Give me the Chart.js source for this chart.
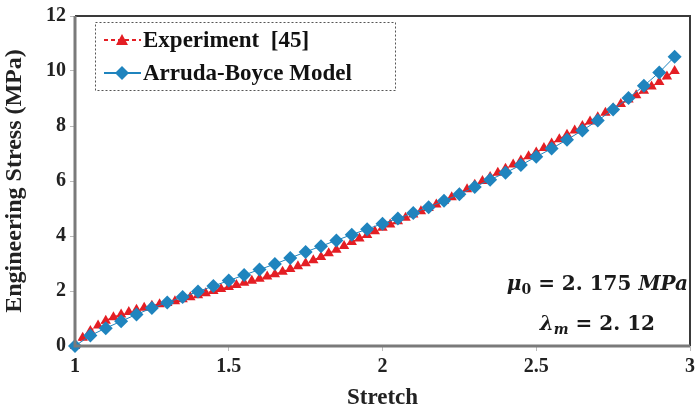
<!DOCTYPE html>
<html>
<head>
<meta charset="utf-8">
<script src="https://cdn.jsdelivr.net/npm/chart.js@4.4.1/dist/chart.umd.min.js"></script>
<style>
  html, body { margin: 0; padding: 0; background: #fff; }
  #wrap { width: 699px; height: 412px; position: relative; }
</style>
</head>
<body>
<div id="wrap"><canvas id="stressChart"></canvas></div>
<script>
// Arruda-Boyce model (blue diamonds)
const modelStretch = [1.00, 1.05, 1.10, 1.15, 1.20, 1.25, 1.30, 1.35, 1.40, 1.45,
  1.50, 1.55, 1.60, 1.65, 1.70, 1.75, 1.80, 1.85, 1.90, 1.95,
  2.00, 2.05, 2.10, 2.15, 2.20, 2.25, 2.30, 2.35, 2.40, 2.45,
  2.50, 2.55, 2.60, 2.65, 2.70, 2.75, 2.80, 2.85, 2.90, 2.95];
const modelStress = [0, 0.38, 0.65, 0.9, 1.15, 1.38, 1.58, 1.78, 1.98, 2.18,
  2.38, 2.58, 2.78, 2.98, 3.2, 3.42, 3.63, 3.84, 4.05, 4.25,
  4.45, 4.64, 4.84, 5.05, 5.28, 5.52, 5.78, 6.05, 6.3, 6.58,
  6.88, 7.18, 7.5, 7.84, 8.2, 8.6, 9.02, 9.46, 9.95, 10.52];

// Experiment [45] (red triangles)
const expStretch = [1.000, 1.025, 1.050, 1.075, 1.100, 1.125, 1.150, 1.175, 1.200, 1.225,
  1.250, 1.275, 1.300, 1.325, 1.350, 1.375, 1.400, 1.425, 1.450, 1.475,
  1.500, 1.525, 1.550, 1.575, 1.600, 1.625, 1.650, 1.675, 1.700, 1.725,
  1.750, 1.775, 1.800, 1.825, 1.850, 1.875, 1.900, 1.925, 1.950, 1.975,
  2.000, 2.025, 2.050, 2.075, 2.100, 2.125, 2.150, 2.175, 2.200, 2.225,
  2.250, 2.275, 2.300, 2.325, 2.350, 2.375, 2.400, 2.425, 2.450, 2.475,
  2.500, 2.525, 2.550, 2.575, 2.600, 2.625, 2.650, 2.675, 2.700, 2.725,
  2.750, 2.775, 2.800, 2.825, 2.850, 2.875, 2.900, 2.925, 2.950];
const expStress = [0, 0.3, 0.55, 0.75, 0.92, 1.05, 1.15, 1.24, 1.32, 1.39,
  1.46, 1.52, 1.56, 1.63, 1.7, 1.77, 1.85, 1.92, 2.0, 2.07,
  2.15, 2.22, 2.3, 2.37, 2.45, 2.53, 2.61, 2.7, 2.8, 2.9,
  3.01, 3.12, 3.24, 3.37, 3.5, 3.64, 3.78, 3.91, 4.04, 4.17,
  4.3, 4.42, 4.54, 4.66, 4.78, 4.9, 5.02, 5.15, 5.28, 5.41,
  5.55, 5.7, 5.86, 6.0, 6.15, 6.3, 6.45, 6.6, 6.75, 6.9,
  7.04, 7.2, 7.36, 7.52, 7.68, 7.84, 8.0, 8.16, 8.32, 8.48,
  8.64, 8.8, 8.96, 9.12, 9.28, 9.44, 9.6, 9.8, 10.0];

const xTicks = [1, 1.5, 2, 2.5, 3];
const yTicks = [0, 2, 4, 6, 8, 10, 12];

const redColor = "rgb(228,30,36)";
const blueColor = "rgb(31,132,190)";
const serif = "'Liberation Serif', 'Times New Roman', serif";

function toPoints(xs, ys) {
  return xs.map((x, i) => ({ x: x, y: ys[i] }));
}

// frame round the plot area
const framePlugin = {
  id: "frame",
  afterDraw(chart) {
    const { ctx, chartArea: a } = chart;
    ctx.save();
    ctx.strokeStyle = "#3a3a3a";
    ctx.lineWidth = 2;
    ctx.beginPath();
    ctx.moveTo(a.left, a.top);
    ctx.lineTo(a.right, a.top);
    ctx.lineTo(a.right, a.bottom);
    ctx.stroke();
    ctx.strokeStyle = "#7a7a7a";
    ctx.lineWidth = 3;
    ctx.beginPath();
    ctx.moveTo(a.left, a.top);
    ctx.lineTo(a.left, a.bottom);
    ctx.lineTo(a.right, a.bottom);
    ctx.stroke();
    ctx.restore();
  },
};

// legend box with dashed border
const legendPlugin = {
  id: "boxLegend",
  afterDraw(chart) {
    const ctx = chart.ctx;
    const x0 = 95, y0 = 22, w = 300, h = 68;
    ctx.save();
    ctx.fillStyle = "#fff";
    ctx.fillRect(x0, y0, w, h);
    ctx.setLineDash([2, 2]);
    ctx.strokeStyle = "#555";
    ctx.lineWidth = 1;
    ctx.strokeRect(x0 + 0.5, y0 + 0.5, w, h);
    ctx.setLineDash([]);

    const rows = chart.data.datasets;
    rows.forEach((ds, i) => {
      const cy = y0 + 18 + i * 33;
      ctx.strokeStyle = ds.borderColor;
      ctx.lineWidth = 2;
      ctx.setLineDash(ds.borderDash || []);
      ctx.beginPath();
      ctx.moveTo(104, cy);
      ctx.lineTo(141, cy);
      ctx.stroke();
      ctx.setLineDash([]);
      ctx.fillStyle = ds.pointBackgroundColor;
      ctx.beginPath();
      if (ds.pointStyle === "triangle") {
        ctx.moveTo(122, cy - 6);
        ctx.lineTo(128, cy + 5);
        ctx.lineTo(116, cy + 5);
      } else {
        ctx.moveTo(122, cy - 7);
        ctx.lineTo(129, cy);
        ctx.lineTo(122, cy + 7);
        ctx.lineTo(115, cy);
      }
      ctx.closePath();
      ctx.fill();
      ctx.fillStyle = "#111";
      ctx.font = "bold 23px " + serif;
      ctx.textBaseline = "middle";
      ctx.fillText(ds.label, 143, cy + 1);
    });
    ctx.restore();
  },
};

// parameter annotation, bottom right
const paramPlugin = {
  id: "params",
  afterDraw(chart) {
    const ctx = chart.ctx;
    const mathFont = "'DejaVu Serif', serif";
    function line(parts, right, baseline) {
      let total = 0;
      parts.forEach(p => { ctx.font = p.f; total += ctx.measureText(p.t).width; });
      let x = right - total;
      parts.forEach(p => {
        ctx.font = p.f;
        ctx.fillText(p.t, x, baseline + (p.dy || 0));
        x += ctx.measureText(p.t).width;
      });
    }
    ctx.save();
    ctx.fillStyle = "#1a1a1a";
    ctx.textBaseline = "alphabetic";
    line([
      { t: "\u03BC", f: "italic bold 20px " + mathFont },
      { t: "0", f: "bold 14px " + mathFont, dy: 4 },
      { t: " = 2. 175 ", f: "bold 20px " + mathFont },
      { t: "MPa", f: "italic bold 20px " + mathFont },
    ], 688, 290);
    line([
      { t: "\u03BB", f: "italic bold 20px " + mathFont },
      { t: "m", f: "italic bold 14px " + mathFont, dy: 4 },
      { t: " = 2. 12", f: "bold 20px " + mathFont },
    ], 655, 330);
    ctx.restore();
  },
};

const ctx = document.getElementById("stressChart").getContext("2d");
const chart = new Chart(ctx, {
  type: "line",
  data: {
    datasets: [
      {
        label: "Experiment  [45]",
        data: toPoints(expStretch, expStress),
        borderColor: redColor,
        borderWidth: 1.5,
        borderDash: [4, 3],
        pointStyle: "triangle",
        pointRadius: 6,
        pointBackgroundColor: redColor,
        pointBorderColor: redColor,
        pointBorderWidth: 0,
        clip: false,
        order: 2,
      },
      {
        label: "Arruda-Boyce Model",
        data: toPoints(modelStretch, modelStress),
        borderColor: blueColor,
        borderWidth: 1,
        pointStyle: "rectRot",
        pointRadius: 7,
        pointBackgroundColor: blueColor,
        pointBorderColor: blueColor,
        pointBorderWidth: 0,
        clip: false,
        order: 1,
      },
    ],
  },
  options: {
    responsive: true,
    maintainAspectRatio: false,
    animation: false,
    layout: { padding: { top: 15, right: 7, left: 0, bottom: 0 } },
    scales: {
      x: {
        type: "linear",
        min: 1,
        max: 3,
        afterBuildTicks: (scale) => { scale.ticks = xTicks.map(v => ({ value: v })); },
        afterFit: (scale) => { scale.height = 66; },
        grid: { display: true, drawOnChartArea: false, tickLength: 5, color: "#bbb" },
        border: { display: false },
        ticks: {
          color: "#222",
          padding: 4,
          font: { family: serif, size: 20, weight: "bold" },
          maxRotation: 0,
          callback: (value) => String(value),
        },
        title: {
          display: true,
          text: "Stretch",
          color: "#222",
          font: { family: serif, size: 23, weight: "bold" },
          padding: { top: 0, bottom: 0 },
        },
      },
      y: {
        min: 0,
        max: 12,
        afterBuildTicks: (scale) => { scale.ticks = yTicks.map(v => ({ value: v })); },
        afterFit: (scale) => { scale.width = 75; },
        grid: { display: true, drawOnChartArea: false, tickLength: 5, color: "#bbb" },
        border: { display: false },
        ticks: {
          color: "#222",
          padding: 4,
          font: { family: serif, size: 20, weight: "bold" },
        },
        title: {
          display: true,
          text: "Engineering Stress (MPa)",
          color: "#222",
          font: { family: serif, size: 24, weight: "bold" },
          padding: { top: 0, bottom: 0 },
        },
      },
    },
    plugins: {
      legend: { display: false },
      tooltip: { enabled: false },
    },
  },
  plugins: [framePlugin, legendPlugin, paramPlugin],
});
</script>
</body>
</html>
